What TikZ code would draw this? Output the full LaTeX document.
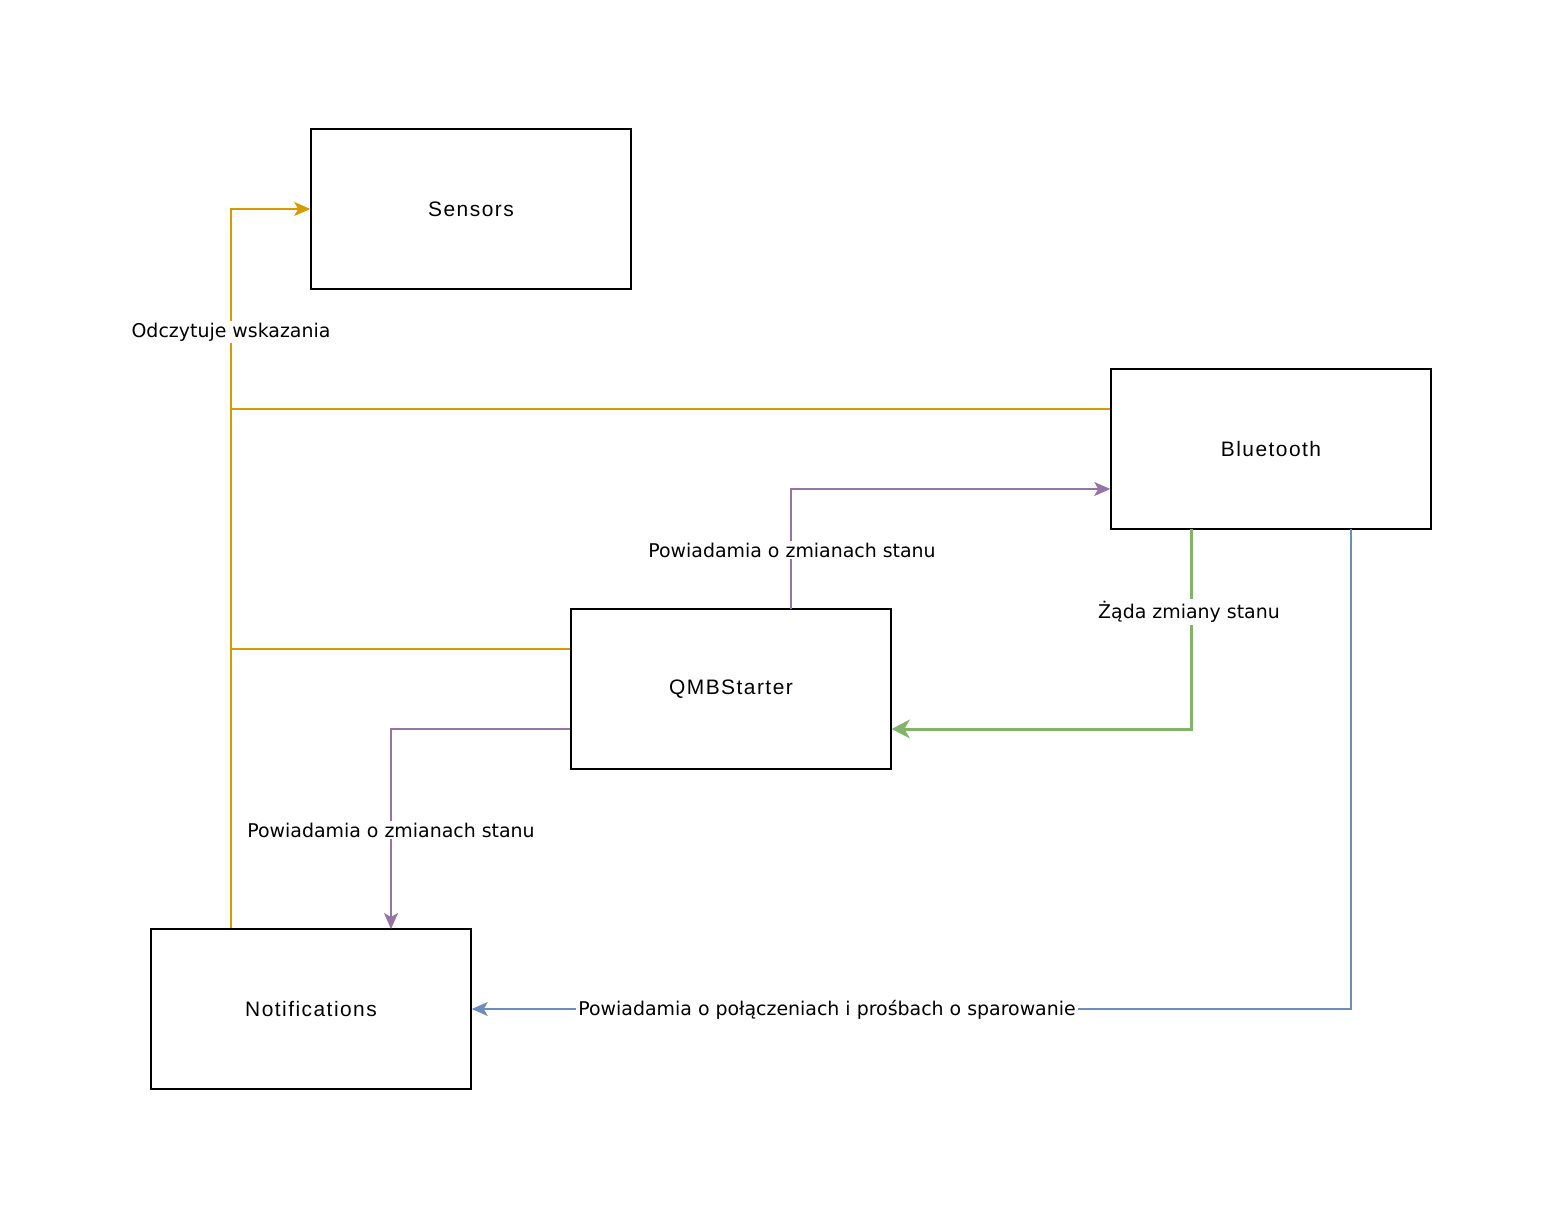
\documentclass[tikz,border=0pt]{standalone}
\usepackage{fontspec}
\setmainfont{Liberation Sans}
\newfontfamily\lblfont{DejaVu Sans}
\usetikzlibrary{arrows.meta}
\definecolor{corange}{HTML}{D79B00}
\definecolor{cpurple}{HTML}{9673A6}
\definecolor{cgreen}{HTML}{82B366}
\definecolor{cblue}{HTML}{6C8EBF}
\begin{document}
\begin{tikzpicture}[x=0.75pt,y=-0.75pt,
  box/.style={draw=black,line width=1.5pt*0.75,minimum width=240pt,minimum height=120pt,inner sep=0pt,font=\fontsize{15.7}{18}\selectfont\addfontfeature{LetterSpace=7}},
  conn/.style={line width=0.75pt*1.5},
  lbl/.style={fill=white,inner sep=1.5pt,font=\lblfont\fontsize{14.2}{16}\selectfont},
  tip/.style={-{Stealth[length=12pt,width=10.5pt,inset=3pt]}}]
\useasboundingbox (0,0) rectangle (1560,1220);
\node[box] (sens) at (471,209) {Sensors};
\node[box] (bt) at (1271,449) {Bluetooth};
\node[box] (qmb) at (731,689) {QMBStarter};
\node[box] (notif) at (311,1009) {Notifications};
\coordinate (j1) at (231,409);
\coordinate (j2) at (231,649);
% orange
\draw[conn,corange,tip] (notif.north -| j1) -- (231,209) -- (sens.west);
\node[lbl] at (231,332) {Odczytuje wskazania};
\draw[conn,corange] (bt.west |- j1) -- (j1);
\draw[conn,corange] (qmb.west |- j2) -- (j2);
% purple
\draw[conn,cpurple,tip] (791,609) -- (791,489) -- (bt.west |- 0,489);
\node[lbl] at (792,550) {Powiadamia o zmianach stanu};
\draw[conn,cpurple,tip] (qmb.west |- 0,729) -- (391,729) -- (391,929);
\node[lbl] at (391,830) {Powiadamia o zmianach stanu};
% green
\draw[line width=3pt*0.75,cgreen,-{Stealth[length=13.5pt,width=14pt,inset=4pt]}] (1191,529) -- (1191,729) -- (qmb.east |- 0,729);
\node[lbl] at (1189,612) {Żąda zmiany stanu};
% blue
\draw[conn,cblue,tip] (1351,529) -- (1351,1009) -- (notif.east);
\node[lbl] at (827,1010) {Powiadamia o połączeniach i prośbach o sparowanie};
\end{tikzpicture}
\end{document}
